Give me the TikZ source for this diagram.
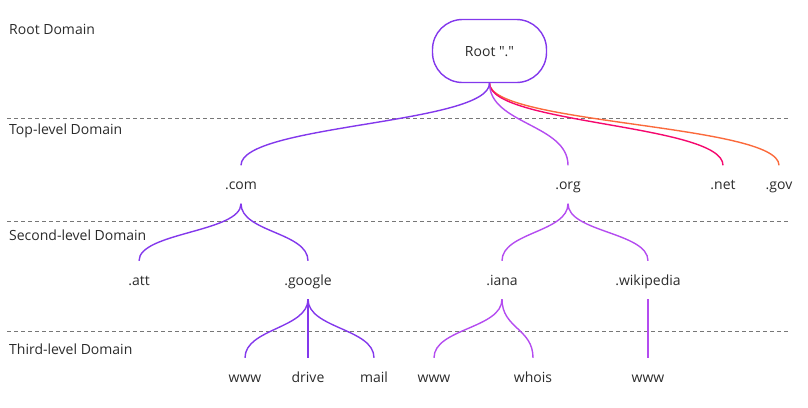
\documentclass[tikz,border=0pt]{standalone}
\usepackage{fontspec}
\setmainfont{Open Sans}[Ligatures=TeXOff]
\usetikzlibrary{calc}
\definecolor{cA}{HTML}{8338EC}
\definecolor{cB}{HTML}{B44CF0}
\definecolor{cC}{HTML}{F5086E}
\definecolor{cD}{HTML}{FB6A3C}
\definecolor{txt}{HTML}{2B2B2B}
\definecolor{sepgray}{HTML}{777777}
\newcommand\lnk[3]{\draw[link,#3] (#1.south) .. controls ($(#1.south)!0.5!(#1.south|-#2.north)$) and ($(#2.north)!0.5!(#2.north|-#1.south)$) .. (#2.north);}
\begin{document}
\begin{tikzpicture}[x=1pt,y=-1pt,
  every node/.style={text=txt,font=\fontsize{14}{16}\selectfont,inner sep=0pt,text height=10pt,text depth=0pt},
  lvl/.style={minimum height=38pt,anchor=center},
  lbl/.style={anchor=west},
  sepline/.style={draw=sepgray,line width=1.1pt,dash pattern=on 4pt off 3pt},
  link/.style={line width=1.4pt}]
\useasboundingbox (0,0) rectangle (808,407);
% level separators
\draw[sepline] (7,118.5) -- (790,118.5);
\draw[sepline] (7,221.5) -- (790,221.5);
\draw[sepline] (7,331.5) -- (790,331.5);
% level labels
\node[lbl] (l0) at (9,29) {Root Domain};
\node[lbl] (l1) at (9,129) {Top-level Domain};
\node[lbl] (l2) at (9,235) {Second-level Domain};
\node[lbl] (l3) at (9,349) {Third-level Domain};
% root
\node[draw=cA,line width=1.4pt,rounded corners=30pt,minimum width=114pt,minimum height=63pt] (root) at (489.5,51) {Root "."};
% top level
\node[lvl] (com) at (241,184.5) {.com};
\node[lvl] (org) at (568,184.5) {.org};
\node[lvl] (net) at (723,184.5) {.net};
\node[lvl] (gov) at (779,184.5) {.gov};
% second level
\node[lvl] (att) at (139,280) {.att};
\node[lvl] (google) at (308,280) {.google};
\node[lvl] (iana) at (502,280) {.iana};
\node[lvl] (wiki) at (648,280) {.wikipedia};
% third level
\node[lvl] (gw) at (245,377) {www};
\node[lvl] (gd) at (308,377) {drive};
\node[lvl] (gm) at (374,377) {mail};
\node[lvl] (iw) at (434,377) {www};
\node[lvl] (ih) at (533,377) {whois};
\node[lvl] (ww) at (648,377) {www};
% links
\lnk{root}{gov}{cD}
\lnk{root}{net}{cC}
\lnk{root}{org}{cB}
\lnk{root}{com}{cA}
\lnk{com}{att}{cA}
\lnk{com}{google}{cA}
\lnk{google}{gw}{cA}
\lnk{google}{gd}{cA}
\lnk{google}{gm}{cA}
\lnk{org}{iana}{cB}
\lnk{org}{wiki}{cB}
\lnk{iana}{iw}{cB}
\lnk{iana}{ih}{cB}
\lnk{wiki}{ww}{cB}
\end{tikzpicture}
\end{document}
